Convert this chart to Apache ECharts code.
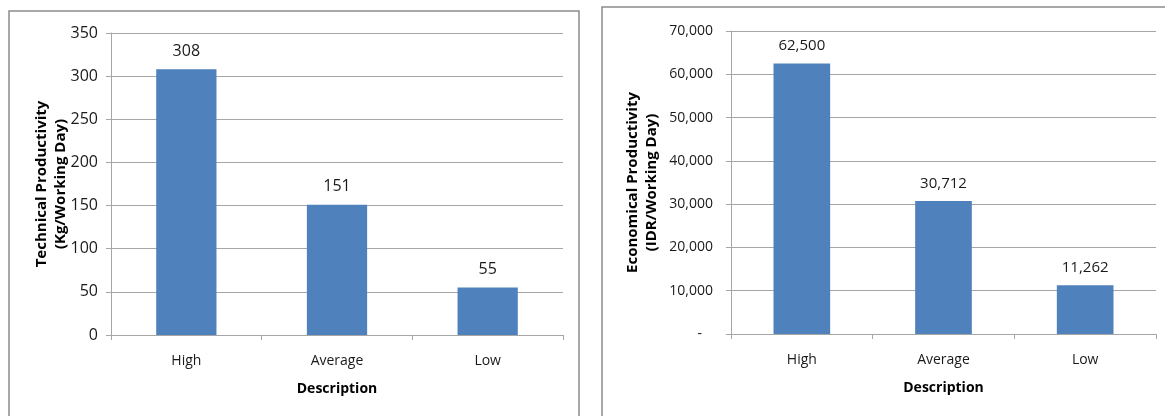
<!DOCTYPE html>
<html>
<head>
<meta charset="utf-8">
<script src="https://cdn.jsdelivr.net/npm/echarts@6/dist/echarts.min.js"></script>
<style>
html,body{margin:0;padding:0;background:#fff;}
#c{width:1165px;height:416px;}
</style>
</head>
<body>
<div id="c"></div>
<script>
const categories = ['High', 'Average', 'Low'];
const technicalValues = [308, 151, 55];
const economicalValues = [62500, 30712, 11262];
const technicalTicks = { min: 0, max: 350, interval: 50 };
const economicalTicks = { min: 0, max: 70000, interval: 10000 };
const technicalTitle = 'Technical Productivity\n(Kg/Working Day)';
const economicalTitle = 'Economical Productivity\n(IDR/Working Day)';
const xTitle = 'Description';

const FONT = 'Open Sans';
const TXT = '#1a1a1a';
const GRID = '#a6a6a6';
const BAR = '#4f81bd';

function fmtNum(v) {
  if (v === 0) return '-   ';
  return v.toString().replace(/\B(?=(\d{3})+(?!\d))/g, ',');
}

function xAxis(gridIndex) {
  return {
    type: 'category', gridIndex, data: categories,
    axisLine: { lineStyle: { color: GRID, width: 1 } },
    axisTick: { show: true, alignWithLabel: false, length: 5, lineStyle: { color: GRID } },
    axisLabel: { color: TXT, fontFamily: FONT, fontSize: 14, margin: 19 },
    name: xTitle, nameLocation: 'middle', nameGap: 47, nameMoveOverlap: false,
    nameTextStyle: { color: '#000', fontFamily: FONT, fontSize: 14, fontWeight: 'bold', verticalAlign: 'top' }
  };
}
function yAxis(gridIndex, ticks, title, fmt, labelSize, labelMargin, gap) {
  return {
    type: 'value', gridIndex, min: ticks.min, max: ticks.max, interval: ticks.interval,
    axisLine: { show: true, lineStyle: { color: GRID } },
    axisTick: { show: true, length: 5, lineStyle: { color: GRID } },
    splitLine: { lineStyle: { color: GRID, width: 1 } },
    axisLabel: { color: TXT, fontFamily: FONT, fontSize: labelSize, margin: labelMargin, formatter: fmt },
    name: title, nameLocation: 'middle', nameGap: gap, nameRotate: 90, nameMoveOverlap: false,
    nameTextStyle: { color: '#000', fontFamily: FONT, fontSize: 15, fontWeight: 'bold', lineHeight: 19 }
  };
}

const chart = echarts.init(document.getElementById('c'), null, { renderer: 'canvas' });
chart.setOption({
  backgroundColor: '#fff',
  animation: false,
  graphic: [
    { type: 'rect', shape: { x: 9, y: 11, width: 570, height: 420 }, style: { fill: 'none', stroke: '#8c8c8c', lineWidth: 1.5 }, z: -1 },
    { type: 'rect', shape: { x: 602, y: 7, width: 600, height: 420 }, style: { fill: 'none', stroke: '#8c8c8c', lineWidth: 1.5 }, z: -1 }
  ],
  grid: [
    { left: 111, top: 33, width: 452, height: 302 },
    { left: 731, top: 31, width: 425, height: 303 }
  ],
  xAxis: [xAxis(0), xAxis(1)],
  yAxis: [
    yAxis(0, technicalTicks, technicalTitle, v => String(v), 16, 13, 41),
    yAxis(1, economicalTicks, economicalTitle, fmtNum, 14, 18, 70)
  ],
  series: [
    {
      type: 'bar', xAxisIndex: 0, yAxisIndex: 0, data: technicalValues, barWidth: '40%',
      itemStyle: { color: BAR },
      label: { show: true, position: 'top', distance: 10, color: TXT, fontFamily: FONT, fontSize: 16 }
    },
    {
      type: 'bar', xAxisIndex: 1, yAxisIndex: 1, data: economicalValues, barWidth: '40%',
      itemStyle: { color: BAR },
      label: { show: true, position: 'top', distance: 10, color: TXT, fontFamily: FONT, fontSize: 15, formatter: p => fmtNum(p.value) }
    }
  ]
});
</script>
</body>
</html>
